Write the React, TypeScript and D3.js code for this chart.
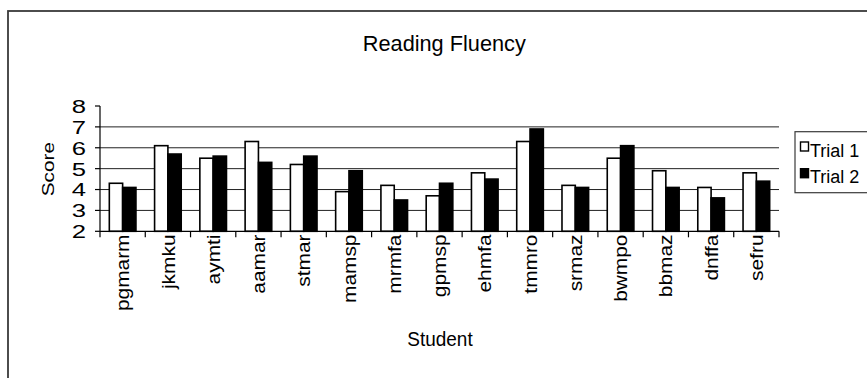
import React from "react";
import * as d3 from "d3";

const students = ["pgmarm", "jkmku", "aymti", "aamar", "stmar", "mamsp", "mrmfa", "gpmsp", "ehmfa", "tmmro", "srmaz", "bwmpo", "bbmaz", "dnffa", "sefru"];
const trial1 = [4.3, 6.1, 5.5, 6.3, 5.2, 3.9, 4.2, 3.7, 4.8, 6.3, 4.2, 5.5, 4.9, 4.1, 4.8];
const trial2 = [4.1, 5.7, 5.6, 5.3, 5.6, 4.9, 3.5, 4.3, 4.5, 6.9, 4.1, 6.1, 4.1, 3.6, 4.4];
const seriesNames = ["Trial 1", "Trial 2"];
const seriesFill = ["#ffffff", "#000000"];
const yTicks = [2, 3, 4, 5, 6, 7, 8];
const gridTicks = [3, 4, 5, 6, 7];
const title = "Reading Fluency";
const xTitle = "Student";
const yTitle = "Score";

const FONT = "'Liberation Sans', Arial, sans-serif";

export default function App() {
  const left = 100, right = 779, top = 106, bottom = 231.3;
  const x = d3.scaleBand<string>().domain(students).range([left, right]).padding(0);
  const xs = d3.scaleBand<string>().domain(seriesNames).range([0, x.step()]).paddingInner(0).paddingOuter(0.7);
  const y = d3.scaleLinear().domain([2, 8]).range([bottom, top]);
  const series = [trial1, trial2];
  const boundaries = d3.range(students.length + 1).map((i) => left + i * x.step());

  return (
    <svg width={867} height={378} style={{ position: "absolute", left: 0, top: 0, background: "#fff" }} fontFamily={FONT}>
      <rect x={0} y={0} width={867} height={378} fill="#fff" />
      <rect x={8} y={11} width={900} height={420} fill="none" stroke="#3a3a3a" strokeWidth={1.8} />
      <text x={444.3} y={50.7} fontSize={22.5} textAnchor="middle" textLength={163} lengthAdjust="spacingAndGlyphs">{title}</text>
      {gridTicks.map((t) => (
        <line key={t} x1={left} x2={right} y1={y(t)} y2={y(t)} stroke="#222" strokeWidth={1} />
      ))}
      {students.map((s, i) => (
        <g key={s}>
          {series.map((vals, j) => (
            <rect key={j} x={(x(s) as number) + (xs(seriesNames[j]) as number)} y={y(vals[i])} width={xs.bandwidth()} height={y(2) - y(vals[i])} fill={seriesFill[j]} stroke="#000" strokeWidth={1.6} />
          ))}
        </g>
      ))}
      <line x1={left} x2={left} y1={y(2)} y2={y(8)} stroke="#000" strokeWidth={1.2} />
      <line x1={left} x2={right} y1={y(2)} y2={y(2)} stroke="#000" strokeWidth={1.2} />
      {yTicks.map((t) => (
        <g key={t}>
          <line x1={left - 5} x2={left} y1={y(t)} y2={y(t)} stroke="#000" strokeWidth={1.2} />
          <text transform={`translate(86,${y(t)}) scale(1.35,1)`} textAnchor="end" dy="0.36em" fontSize={19}>{t}</text>
        </g>
      ))}
      {boundaries.map((bx, i) => (
        <line key={i} x1={bx} x2={bx} y1={bottom} y2={bottom + 6} stroke="#000" strokeWidth={1.2} />
      ))}
      {students.map((s) => (
        <text key={s} transform={`translate(${(x(s) as number) + x.bandwidth() / 2},234.5) rotate(-90) scale(1.13,1)`} textAnchor="end" dy="0.36em" fontSize={18.5}>{s}</text>
      ))}
      <text x={440} y={345.7} fontSize={21} textAnchor="middle" textLength={65.4} lengthAdjust="spacingAndGlyphs">{xTitle}</text>
      <text transform={`translate(53.5,169.2) rotate(-90) scale(1.3,1)`} textAnchor="middle" fontSize={16}>{yTitle}</text>
      <rect x={795} y={131.7} width={100} height={61} fill="#fff" stroke="#3a3a3a" strokeWidth={1.2} />
      {seriesNames.map((n, j) => (
        <g key={n}>
          <rect x={800.5} y={142 + j * 26.7} width={8} height={9} fill={seriesFill[j]} stroke="#000" strokeWidth={1.4} />
          <text x={810} y={156.7 + j * 26.7} fontSize={18}>{n}</text>
        </g>
      ))}
    </svg>
  );
}
